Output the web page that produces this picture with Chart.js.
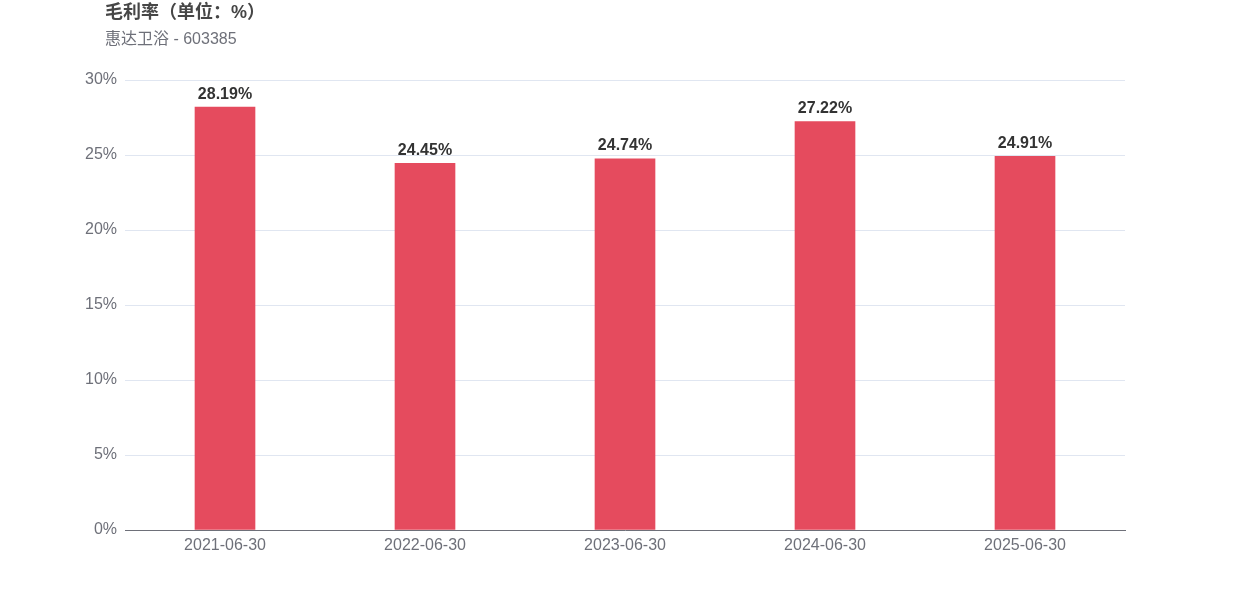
<!DOCTYPE html>
<html><head><meta charset="utf-8">
<script src="https://cdn.jsdelivr.net/npm/chart.js@4/dist/chart.umd.min.js"></script>
<style>html,body{margin:0;padding:0;background:#fff}#w{width:1250px;height:600px;position:relative}</style>
</head><body><div id="w"><canvas id="c" width="1250" height="600"></canvas></div>
<script>
const categories = ['2021-06-30','2022-06-30','2023-06-30','2024-06-30','2025-06-30'];
const grossMargin = [28.19, 24.45, 24.74, 27.22, 24.91];
const yTicks = [0,5,10,15,20,25,30];
const titleText = '毛利率（单位：%）';
const subtitleText = '惠达卫浴 - 603385';
const FONT = '"Liberation Sans", Arial, "Noto Sans CJK SC", sans-serif';

const overlay = {
  id:'overlay',
  afterDatasetsDraw(chart){
    const ctx = chart.ctx;
    const meta = chart.getDatasetMeta(0);
    ctx.save();
    ctx.fillStyle = '#333';
    ctx.font = 'bold 16px ' + FONT;
    ctx.textAlign = 'center';
    ctx.textBaseline = 'bottom';
    meta.data.forEach((el,i)=>{
      ctx.fillText(grossMargin[i].toFixed(2)+'%', el.x, el.y - 5);
    });
    ctx.restore();
  },
  afterDraw(chart){
    const ctx = chart.ctx;
    ctx.save();
    ctx.textAlign='left'; ctx.textBaseline='middle';
    ctx.fillStyle='#464646';
    ctx.font='bold 18px ' + FONT;
    ctx.fillText(titleText,105,13);
    ctx.fillStyle='#6e7079';
    ctx.font='16px ' + FONT;
    ctx.fillText(subtitleText,105,40);
    ctx.restore();
  }
};

new Chart(document.getElementById('c'),{
  type:'bar',
  data:{labels:categories,datasets:[{data:grossMargin,backgroundColor:'#e54b5e',barThickness:60}]},
  options:{
    responsive:false,animation:false,
    layout:{padding:{left:0,right:125,top:80,bottom:0}},
    plugins:{legend:{display:false},tooltip:{enabled:false},title:{display:false}},
    scales:{
      x:{
        grid:{display:false,drawTicks:false},
        border:{display:true,color:'#6e7079',width:1},
        ticks:{color:'#6e7079',font:{size:16,family:FONT},padding:6,maxRotation:0},
        afterFit(s){s.height=70;}
      },
      y:{
        min:0,max:30,
        afterBuildTicks(s){s.ticks=yTicks.map(v=>({value:v}));},
        grid:{color:'#e0e6f1',drawTicks:false},
        border:{display:false},
        ticks:{color:'#6e7079',font:{size:16,family:FONT},padding:8,callback:v=>v+'%'},
        afterFit(s){s.width=125;}
      }
    }
  },
  plugins:[overlay]
});
</script></body></html>
